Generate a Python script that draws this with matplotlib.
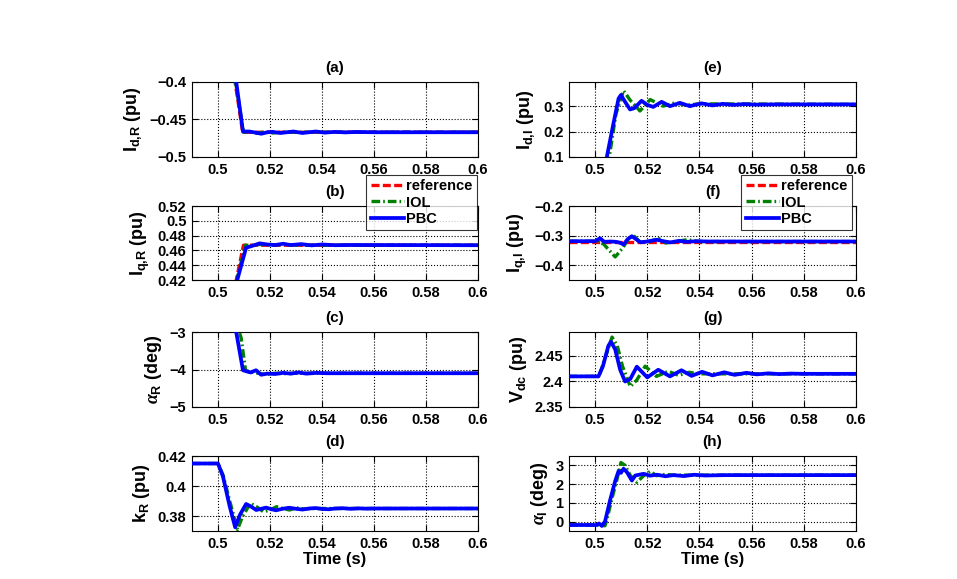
import matplotlib
matplotlib.use("Agg")
import matplotlib.pyplot as plt
from matplotlib.lines import Line2D

plt.rcParams['font.family'] = ['Liberation Sans', 'DejaVu Sans']
plt.rcParams['font.weight'] = 'bold'
plt.rcParams['mathtext.fontset'] = 'custom'
plt.rcParams['mathtext.rm'] = 'Liberation Sans:bold'
plt.rcParams['mathtext.bf'] = 'Liberation Sans:bold'
plt.rcParams['mathtext.it'] = 'Liberation Serif:italic'
plt.rcParams['mathtext.default'] = 'bf'

# ---------------- data ----------------
x_ticks = [0.5, 0.52, 0.54, 0.56, 0.58, 0.6]
x_tick_labels = ['0.5', '0.52', '0.54', '0.56', '0.58', '0.6']
series_labels = ['reference', 'IOL', 'PBC']

# (a) I_d,R
a_ref_t = [0.49, 0.5, 0.5095, 0.6]
a_ref_y = [-0.25, -0.25, -0.467, -0.467]
a_iol_t = [0.49, 0.5, 0.5098, 0.512, 0.515, 0.518, 0.521, 0.525, 0.53, 0.6]
a_iol_y = [-0.25, -0.25, -0.467, -0.466, -0.4685, -0.4665, -0.468, -0.4668, -0.467, -0.467]
a_pbc_t = [0.49, 0.5, 0.507, 0.5096, 0.512, 0.5145, 0.5166, 0.519, 0.521, 0.524, 0.5265,
           0.529, 0.5325, 0.535, 0.5376, 0.541, 0.545, 0.549, 0.553, 0.56, 0.6]
a_pbc_y = [-0.25, -0.25, -0.4, -0.466, -0.466, -0.4675, -0.469, -0.467, -0.4665, -0.468, -0.467,
           -0.466, -0.468, -0.467, -0.466, -0.4675, -0.4665, -0.4672, -0.4666, -0.467, -0.467]

# (b) I_q,R
b_ref_t = [0.49, 0.5, 0.5098, 0.6]
b_ref_y = [0.3, 0.3, 0.467, 0.467]
b_iol_t = [0.49, 0.5, 0.5072, 0.5105, 0.513, 0.516, 0.52, 0.525, 0.53, 0.6]
b_iol_y = [0.3, 0.3, 0.42, 0.467, 0.4668, 0.468, 0.4672, 0.468, 0.467, 0.467]
b_pbc_t = [0.49, 0.5, 0.5074, 0.5108, 0.5135, 0.516, 0.519, 0.522, 0.525, 0.528, 0.532,
           0.536, 0.54, 0.545, 0.55, 0.6]
b_pbc_y = [0.3, 0.3, 0.42, 0.4636, 0.4665, 0.4695, 0.468, 0.4672, 0.469, 0.4672, 0.4685,
           0.4668, 0.468, 0.467, 0.4673, 0.467]

# (c) alpha_R
c_iol_t = [0.49, 0.5, 0.5089, 0.5106, 0.513, 0.5155, 0.518, 0.522, 0.526, 0.53, 0.6]
c_iol_y = [-1.2, -1.2, -3.16, -4.03, -4.07, -4.1, -4.13, -4.1, -4.11, -4.1, -4.1]
c_pbc_t = [0.49, 0.5, 0.507, 0.5096, 0.5125, 0.5146, 0.5166, 0.519, 0.522, 0.525, 0.528,
           0.531, 0.534, 0.538, 0.542, 0.55, 0.6]
c_pbc_y = [-1.2, -1.2, -3.0, -4.02, -4.08, -4.02, -4.14, -4.11, -4.12, -4.09, -4.11,
           -4.08, -4.11, -4.09, -4.1, -4.1, -4.1]

# (d) k_R
d_iol_t = [0.49, 0.5, 0.502, 0.5045, 0.5075, 0.5095, 0.5125, 0.515, 0.5175, 0.52, 0.5225,
           0.525, 0.5275, 0.53, 0.533, 0.536, 0.6]
d_iol_y = [0.415, 0.415, 0.407, 0.39, 0.371, 0.38, 0.3885, 0.386, 0.3828, 0.384, 0.3862,
           0.385, 0.384, 0.3855, 0.3847, 0.385, 0.385]
d_pbc_t = [0.49, 0.5, 0.5019, 0.5045, 0.5066, 0.5085, 0.5108, 0.5128, 0.5147, 0.5166, 0.5185,
           0.5204, 0.5223, 0.5248, 0.5274, 0.53, 0.5325, 0.535, 0.5376, 0.54, 0.5427, 0.545,
           0.548, 0.551, 0.554, 0.557, 0.56, 0.6]
d_pbc_y = [0.415, 0.415, 0.4064, 0.3864, 0.3725, 0.381, 0.388, 0.3862, 0.384, 0.3848, 0.3856,
           0.3846, 0.3838, 0.3848, 0.3855, 0.3848, 0.3843, 0.385, 0.3853, 0.3847, 0.3845, 0.385,
           0.3852, 0.3848, 0.3851, 0.3849, 0.385, 0.385]

# (e) I_d,I
e_iol_t = [0.49, 0.5035, 0.5057, 0.508, 0.5109, 0.5134, 0.5172, 0.5211, 0.5261, 0.5306,
           0.535, 0.54, 0.6]
e_iol_y = [-0.05, -0.05, 0.117, 0.27, 0.361, 0.324, 0.281, 0.326, 0.30, 0.313,
           0.304, 0.309, 0.307]
e_pbc_t = [0.49, 0.5025, 0.5045, 0.507, 0.509, 0.5099, 0.5115, 0.5134, 0.515, 0.5178, 0.52,
           0.5223, 0.5255, 0.5287, 0.5325, 0.5363, 0.5408, 0.545, 0.549, 0.553, 0.557, 0.562,
           0.57, 0.6]
e_pbc_y = [-0.05, -0.05, 0.1, 0.23, 0.33, 0.344, 0.317, 0.287, 0.292, 0.321, 0.305,
           0.297, 0.317, 0.30, 0.313, 0.30, 0.311, 0.303, 0.309, 0.305, 0.308, 0.306,
           0.307, 0.307]

# (f) I_q,I
f_ref_t = [0.49, 0.6]
f_ref_y = [-0.32, -0.32]
f_iol_t = [0.49, 0.5, 0.5032, 0.5077, 0.5105, 0.5122, 0.5145, 0.5173, 0.5205, 0.5244,
           0.527, 0.5353, 0.54, 0.6]
f_iol_y = [-0.319, -0.319, -0.328, -0.372, -0.343, -0.319, -0.298, -0.322, -0.32, -0.31,
           -0.325, -0.314, -0.32, -0.32]
f_pbc_t = [0.49, 0.5, 0.5019, 0.5035, 0.506, 0.508, 0.5095, 0.5109, 0.5125, 0.5141, 0.5173,
           0.52, 0.5237, 0.5262, 0.5288, 0.532, 0.5353, 0.539, 0.543, 0.55, 0.6]
f_pbc_y = [-0.319, -0.319, -0.309, -0.321, -0.32, -0.321, -0.324, -0.33, -0.312, -0.302, -0.3225,
           -0.32, -0.314, -0.319, -0.323, -0.318, -0.321, -0.319, -0.32, -0.32, -0.32]

# (g) V_dc
g_iol_t = [0.49, 0.5, 0.5015, 0.5065, 0.5085, 0.5105, 0.5135, 0.516, 0.5192, 0.5235,
           0.5281, 0.532, 0.536, 0.54, 0.6]
g_iol_y = [2.41, 2.41, 2.41, 2.487, 2.47, 2.43, 2.39, 2.403, 2.43, 2.41,
           2.42, 2.412, 2.418, 2.415, 2.415]
g_pbc_t = [0.49, 0.5, 0.5013, 0.503, 0.5051, 0.5061, 0.5077, 0.5096, 0.5115, 0.5135, 0.516,
           0.52, 0.5242, 0.5287, 0.5331, 0.537, 0.541, 0.545, 0.5495, 0.5535, 0.558,
           0.562, 0.5665, 0.5705, 0.575, 0.58, 0.6]
g_pbc_y = [2.41, 2.41, 2.41, 2.43, 2.47, 2.478, 2.463, 2.423, 2.40, 2.405, 2.429,
           2.408, 2.423, 2.41, 2.422, 2.411, 2.419, 2.412, 2.418, 2.413, 2.417,
           2.414, 2.416, 2.4145, 2.4155, 2.415, 2.415]

# (h) alpha_I
h_iol_t = [0.49, 0.5, 0.503, 0.5038, 0.5045, 0.5064, 0.5083, 0.5099, 0.5115, 0.5135, 0.516,
           0.519, 0.5212, 0.5235, 0.527, 0.53, 0.6]
h_iol_y = [-0.18, -0.18, -0.2, -0.22, 0.1, 1.2, 2.2, 3.15, 3.0, 2.46, 2.1,
           2.5, 2.68, 2.45, 2.52, 2.48, 2.48]
h_pbc_t = [0.49, 0.5, 0.5006, 0.5015, 0.5026, 0.5038, 0.5058, 0.5077, 0.509, 0.5099, 0.5109,
           0.5122, 0.5141, 0.5154, 0.5186, 0.521, 0.5237, 0.527, 0.53, 0.534, 0.538, 0.542,
           0.55, 0.6]
h_pbc_y = [-0.18, -0.18, -0.18, -0.1, -0.23, 0.0, 1.17, 2.16, 2.7, 2.6, 2.82,
           2.64, 2.19, 2.46, 2.55, 2.45, 2.5, 2.42, 2.48, 2.43, 2.5, 2.46,
           2.48, 2.48]

panels = [
    dict(title='(a)', ylabel=r'$I_{d{,}R}$ (pu)', ylim=(-0.5, -0.4),
         yticks=[-0.5, -0.45, -0.4], yticklabels=['−0.5', '−0.45', '−0.4'],
         ref=(a_ref_t, a_ref_y), iol=(a_iol_t, a_iol_y), pbc=(a_pbc_t, a_pbc_y)),
    dict(title='(b)', ylabel=r'$I_{q{,}R}$ (pu)', ylim=(0.42, 0.52),
         yticks=[0.42, 0.44, 0.46, 0.48, 0.5, 0.52],
         yticklabels=['0.42', '0.44', '0.46', '0.48', '0.5', '0.52'],
         ref=(b_ref_t, b_ref_y), iol=(b_iol_t, b_iol_y), pbc=(b_pbc_t, b_pbc_y)),
    dict(title='(c)', ylabel=r'$\mathit{\alpha}_{R}$ (deg)', ylim=(-5, -3),
         yticks=[-5, -4, -3], yticklabels=['−5', '−4', '−3'],
         ref=None, iol=(c_iol_t, c_iol_y), pbc=(c_pbc_t, c_pbc_y)),
    dict(title='(d)', ylabel=r'$k_{R}$ (pu)', ylim=(0.37, 0.42),
         yticks=[0.38, 0.4, 0.42], yticklabels=['0.38', '0.4', '0.42'],
         ref=None, iol=(d_iol_t, d_iol_y), pbc=(d_pbc_t, d_pbc_y)),
    dict(title='(e)', ylabel=r'$I_{d{,}I}$ (pu)', ylim=(0.1, 0.395),
         yticks=[0.1, 0.2, 0.3], yticklabels=['0.1', '0.2', '0.3'],
         ref=None, iol=(e_iol_t, e_iol_y), pbc=(e_pbc_t, e_pbc_y)),
    dict(title='(f)', ylabel=r'$I_{q{,}I}$ (pu)', ylim=(-0.45, -0.2),
         yticks=[-0.4, -0.3, -0.2], yticklabels=['−0.4', '−0.3', '−0.2'],
         ref=(f_ref_t, f_ref_y), iol=(f_iol_t, f_iol_y), pbc=(f_pbc_t, f_pbc_y)),
    dict(title='(g)', ylabel=r'$V_{dc}$ (pu)', ylim=(2.35, 2.497),
         yticks=[2.35, 2.4, 2.45], yticklabels=['2.35', '2.4', '2.45'],
         ref=None, iol=(g_iol_t, g_iol_y), pbc=(g_pbc_t, g_pbc_y)),
    dict(title='(h)', ylabel=r'$\mathit{\alpha}_{I}$ (deg)', ylim=(-0.5, 3.5),
         yticks=[0, 1, 2, 3], yticklabels=['0', '1', '2', '3'],
         ref=None, iol=(h_iol_t, h_iol_y), pbc=(h_pbc_t, h_pbc_y)),
]

W, H = 957, 579
fig = plt.figure(figsize=(W / 100, H / 100), dpi=100)
fig.patch.set_facecolor('white')

col_x = [192, 569]
col_w = [286, 287]
rows = [(82, 157), (206, 280), (332, 407), (456, 531)]

ref_dash = (2.4, 1.0)
iol_dash = (2.6, 0.9, 0.5, 0.9)

axes = []
for i, p in enumerate(panels):
    col = i // 4
    row = i % 4
    top, bot = rows[row]
    ax = fig.add_axes([col_x[col] / W, 1 - bot / H, col_w[col] / W, (bot - top) / H])
    axes.append(ax)
    if p['ref'] is not None:
        ax.plot(p['ref'][0], p['ref'][1], color='#ff0000', ls=(0, ref_dash), lw=2.4, zorder=2)
    ax.plot(p['iol'][0], p['iol'][1], color='#008000', ls=(0, iol_dash), lw=2.4, zorder=3)
    ax.plot(p['pbc'][0], p['pbc'][1], color='#0000ff', ls='-', lw=2.7, zorder=4)
    ax.set_xlim(0.49, 0.6)
    ax.set_ylim(*p['ylim'])
    ax.set_xticks(x_ticks)
    ax.set_xticklabels(x_tick_labels)
    ax.set_yticks(p['yticks'])
    ax.set_yticklabels(p['yticklabels'])
    ax.tick_params(direction='in', length=4, width=0.8, labelsize=10.5, pad=4,
                   top=True, right=True)
    for lab in ax.get_xticklabels() + ax.get_yticklabels():
        lab.set_fontweight('bold')
    ax.grid(True, ls=':', color='black', lw=0.8)
    for s in ax.spines.values():
        s.set_linewidth(0.8)
    ax.set_title(p['title'], fontsize=11, fontweight='bold', pad=7)
    ax.set_ylabel(p['ylabel'], fontsize=13, fontweight='bold', labelpad=4)
    if row == 3:
        ax.set_xlabel('Time (s)', fontsize=12, fontweight='bold', labelpad=1)

# legends
handles = [Line2D([], [], color='#ff0000', ls=(0, ref_dash), lw=2.4),
           Line2D([], [], color='#008000', ls=(0, iol_dash), lw=2.4),
           Line2D([], [], color='#0000ff', ls='-', lw=2.7)]
for ax, (xr, yt) in [(axes[1], (477, 175)), (axes[5], (852, 175))]:
    leg = ax.legend(handles, series_labels, loc='upper right',
                    bbox_to_anchor=(xr / W, 1 - yt / H), bbox_transform=fig.transFigure,
                    prop={'weight': 'bold', 'size': 10.5}, frameon=True, fancybox=False,
                    handlelength=2.3, handletextpad=0.15, labelspacing=0.15,
                    borderpad=0.3, borderaxespad=0.0)
    leg.get_frame().set_edgecolor('black')
    leg.get_frame().set_linewidth(0.8)
    leg.set_zorder(10)

fig.savefig('out.png', dpi=100, facecolor='white')
